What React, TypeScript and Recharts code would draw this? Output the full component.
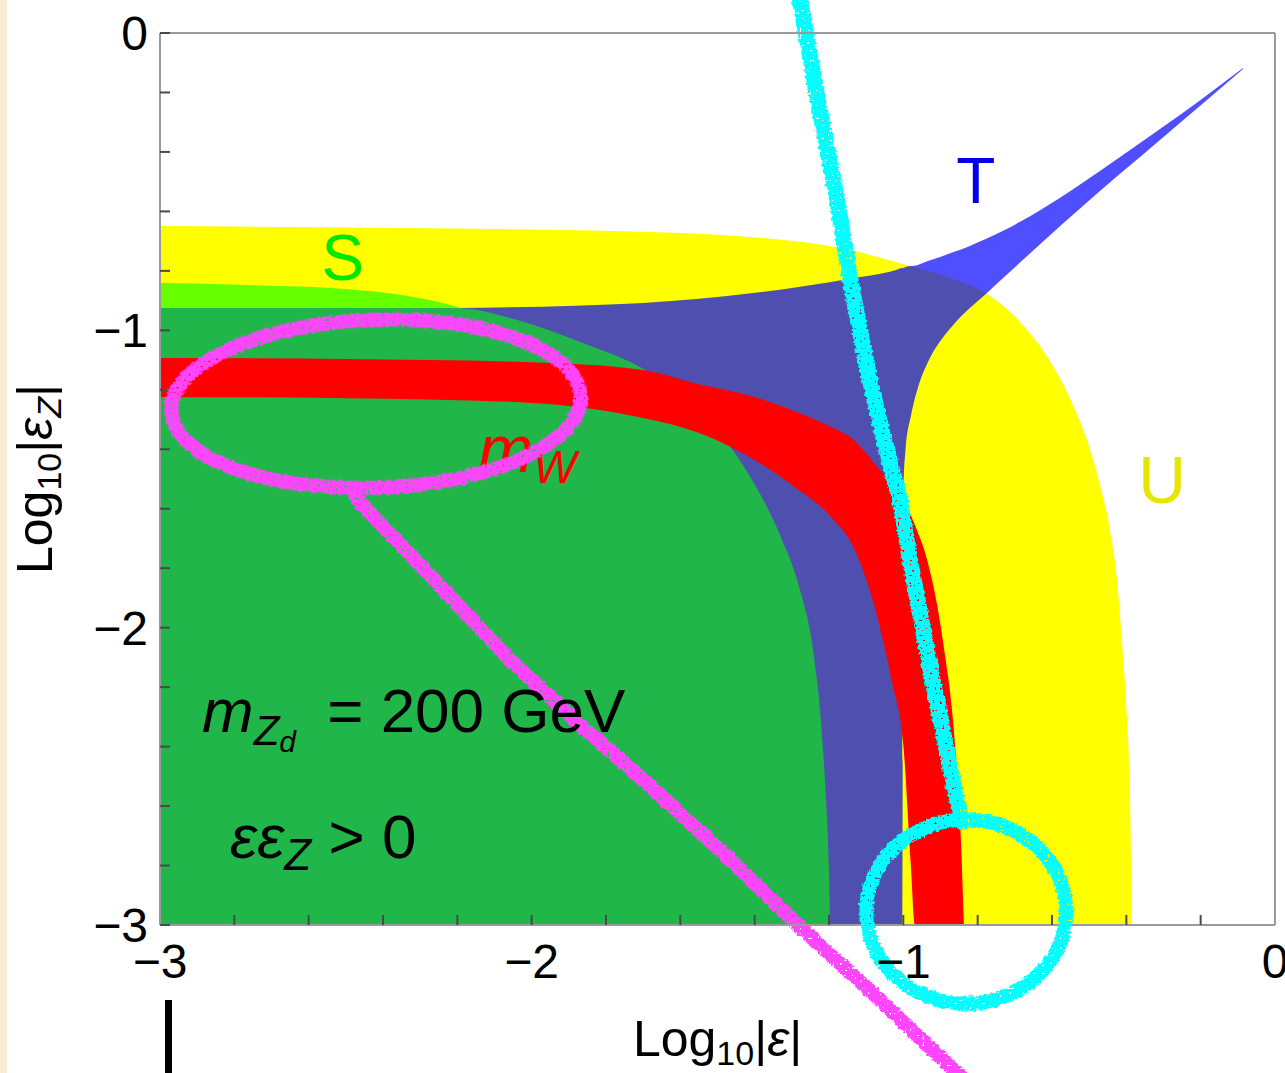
import React from "react";
import {
  ComposedChart,
  Area,
  XAxis,
  YAxis,
  Label,
  ReferenceLine,
  ReferenceDot,
} from "recharts";

const FONT = "'Liberation Sans', Arial, Helvetica, sans-serif";
const W = 1285;
const H = 1073;

// axis ticks every 0.2, labels only on the integers
const ticks = [-3, -2.8, -2.6, -2.4, -2.2, -2, -1.8, -1.6, -1.4, -1.2, -1, -0.8, -0.6, -0.4, -0.2, 0];

// outer edge of the S ∪ U allowed region (yellow), [log|ε|, log|εZ|]
const yellowEdge: [number, number][] = [
  [-3, -0.649], [-2.354, -0.656], [-1.682, -0.669], [-1.413, -0.686], [-1.144, -0.73],
  [-1.009, -0.774], [-0.874, -0.824], [-0.78, -0.874], [-0.686, -0.972], [-0.611, -1.093],
  [-0.552, -1.228], [-0.506, -1.369], [-0.471, -1.52], [-0.444, -1.672], [-0.425, -1.84],
  [-0.412, -2.042], [-0.398, -2.311], [-0.39, -2.58], [-0.385, -3],
];

// S band edge where it overlaps the yellow strip (light green)
const lightGreenEdge: [number, number][] = [
  [-3, -0.841], [-2.75, -0.848], [-2.5, -0.861], [-2.35, -0.881], [-2.25, -0.905], [-2.19, -0.925],
];

// S allowed region (dark green)
const greenEdge: [number, number][] = [
  [-3, -0.925], [-2.206, -0.925], [-2.039, -0.965], [-1.862, -1.043], [-1.682, -1.144],
  [-1.574, -1.251], [-1.48, -1.369], [-1.399, -1.52], [-1.332, -1.688], [-1.278, -1.873],
  [-1.243, -2.075], [-1.222, -2.311], [-1.208, -2.58], [-1.2, -2.815], [-1.197, -3],
];

// T allowed region: [x, lower, upper]
const tBand: [number, number, number][] = [
  [-2.201, -3, -0.925], [-1.7, -3, -0.908], [-1.399, -3, -0.874], [-1.149, -3, -0.827],
  [-1.02, -3, -0.797], [-1.003, -3, -0.79], [-1.0, -1.537, -0.79], [-0.994, -1.402, -0.787],
  [-0.979, -1.285, -0.784], [-0.961, -1.194, -0.78], [-0.934, -1.107, -0.767], [-0.901, -1.037, -0.753],
  [-0.861, -0.975, -0.735], [-0.821, -0.925, -0.716], [-0.78, -0.88, -0.694], [-0.733, -0.826, -0.666],
  [-0.686, -0.772, -0.635], [-0.578, -0.649, -0.554], [-0.471, -0.531, -0.464], [-0.363, -0.417, -0.37],
  [-0.256, -0.303, -0.276], [-0.161, -0.202, -0.188], [-0.086, -0.121, -0.118],
];

// m_W band: [x, lower, upper]
const mwBand: [number, number, number][] = [
  [-3, -1.224, -1.093], [-2.5, -1.228, -1.096], [-2.0, -1.244, -1.107], [-1.7, -1.295, -1.133],
  [-1.55, -1.345, -1.181], [-1.4, -1.436, -1.224], [-1.3, -1.52, -1.268], [-1.2, -1.621, -1.322],
  [-1.13, -1.739, -1.372], [-1.07, -1.964, -1.46], [-1.03, -2.186, -1.52], [-1.0, -2.395, -1.571],
  [-0.98, -2.795, -1.621], [-0.969, -3, -1.655], [-0.936, -3, -1.772], [-0.909, -3, -1.924],
  [-0.888, -3, -2.092], [-0.869, -3, -2.277], [-0.856, -3, -2.479], [-0.845, -3, -2.714],
  [-0.837, -3, -3],
];

// hand-drawn markings on top of the plot
const magentaLoop: [number, number] = [-2.419, -1.247];
const magentaTail: [number, number][] = [
  [-2.475, -1.561], [-2.274, -1.823], [-2.058, -2.109], [-1.883, -2.311], [-1.709, -2.502],
  [-1.493, -2.748], [-1.278, -3.007], [-1.063, -3.252], [-0.856, -3.498], [-0.834, -3.521],
];
const cyanStroke: [number, number][] = [
  [-1.278, 0.111], [-1.23, -0.225], [-1.178, -0.562], [-1.144, -0.821], [-1.098, -1.123],
  [-1.052, -1.369], [-1.009, -1.571], [-0.982, -1.772], [-0.928, -2.132], [-0.866, -2.522],
  [-0.842, -2.654],
];
const cyanRing: [number, number] = [-0.831, -2.955];

type Row = { x: number; [k: string]: number | [number, number] };
const table: Row[] = [
  ...yellowEdge.map(([x, y]) => ({ x, yellow: [-3, y] as [number, number] })),
  ...lightGreenEdge.map(([x, y]) => ({ x, lime: [-3, y] as [number, number] })),
  ...greenEdge.map(([x, y]) => ({ x, green: [-3, y] as [number, number] })),
  ...tBand.map(([x, lo, hi]) => ({ x, t: [lo, hi] as [number, number] })),
  ...mwBand.map(([x, lo, hi]) => ({ x, mw: [lo, hi] as [number, number] })),
].sort((a, b) => a.x - b.x);

const fmt = (v: number) => (Number.isInteger(v) ? (v < 0 ? `\u2212${Math.abs(v)}` : String(v)) : "");

const axisLine = { stroke: "#9a9a9a", strokeWidth: 2 };
const tickLine = { stroke: "#4a4a4a", strokeWidth: 2 };

function XTitle(props: any) {
  const vb = props.viewBox || { x: 160, y: 925, width: 1115 };
  return (
    <text x={vb.x + vb.width / 2} y={vb.y + 131} textAnchor="middle" fontSize={50} fontFamily={FONT} fill="#000">
      Log
      <tspan fontSize={34} dy={9}>10</tspan>
      <tspan dy={-9}>|</tspan>
      <tspan fontStyle="italic">ε</tspan>
      <tspan>|</tspan>
    </text>
  );
}

function YTitle(props: any) {
  const vb = props.viewBox || { x: 0, y: 33, height: 892 };
  const cx = vb.x + 52;
  const cy = vb.y + vb.height / 2;
  return (
    <text x={cx} y={cy} transform={`rotate(-90 ${cx} ${cy})`} textAnchor="middle" fontSize={50} fontFamily={FONT} fill="#000">
      Log
      <tspan fontSize={34} dy={9}>10</tspan>
      <tspan dy={-9}>|</tspan>
      <tspan fontStyle="italic">ε</tspan>
      <tspan fontSize={34} fontStyle="italic" dy={9}>Z</tspan>
      <tspan dy={-9}>|</tspan>
    </text>
  );
}

// polyline drawn as chained reference segments so it may leave the plot frame
function Stroke({ pts, color, width }: { pts: [number, number][]; color: string; width: number }) {
  return (
    <>
      {pts.slice(1).map((p, i) => (
        <ReferenceLine
          key={`${color}-${i}`}
          segment={[{ x: pts[i][0], y: pts[i][1] }, { x: p[0], y: p[1] }]}
          ifOverflow="visible"
          shape={(s: any) => (
            <line
              x1={s.x1}
              y1={s.y1}
              x2={s.x2}
              y2={s.y2}
              stroke={color}
              strokeWidth={width}
              strokeLinecap="round"
              filter="url(#chalk)"
            />
          )}
        />
      ))}
    </>
  );
}

const ring = (rx: number, ry: number, tilt: number, color: string) => (p: any) => (
  <ellipse
    cx={p.cx}
    cy={p.cy}
    rx={rx}
    ry={ry}
    fill="none"
    stroke={color}
    strokeWidth={14}
    transform={`rotate(${tilt} ${p.cx} ${p.cy})`}
    filter="url(#chalk)"
  />
);

const note = (render: (cx: number, cy: number) => React.ReactNode) => (p: any) => <g>{render(p.cx, p.cy)}</g>;

export default function App() {
  return (
    <div style={{ position: "absolute", left: 0, top: 0, width: W, height: H, background: "#fff", overflow: "hidden" }}>
      <svg width={0} height={0} style={{ position: "absolute" }}>
        <defs>
          {/* rough chalk-like edge and a few pin holes for the marker strokes */}
          <filter id="chalk" filterUnits="userSpaceOnUse" x={0} y={0} width={W} height={H}>
            <feTurbulence type="fractalNoise" baseFrequency="0.3" numOctaves={2} seed={4} result="noise" />
            <feDisplacementMap in="SourceGraphic" in2="noise" scale={5} xChannelSelector="R" yChannelSelector="G" result="rough" />
            <feTurbulence type="fractalNoise" baseFrequency="0.4" numOctaves={1} seed={11} result="grain" />
            <feColorMatrix
              in="grain"
              type="matrix"
              values="0 0 0 0 0  0 0 0 0 0  0 0 0 0 0  25 0 0 0 -7.2"
              result="mask"
            />
            <feComposite in="rough" in2="mask" operator="in" />
          </filter>
        </defs>
      </svg>
      <div style={{ position: "absolute", left: 0, top: 0, width: 7, height: H, background: "#f6edd3" }} />

      <ComposedChart width={W} height={H} data={table} margin={{ top: 0, right: 0, bottom: 0, left: 0 }}>
        <XAxis
          type="number"
          dataKey="x"
          domain={[-3, 0]}
          ticks={ticks}
          interval={0}
          allowDataOverflow
          height={148}
          tickSize={-10}
          tickMargin={29}
          tickFormatter={fmt}
          tick={{ fontSize: 48, fill: "#000", fontFamily: FONT }}
          axisLine={axisLine}
          tickLine={tickLine}
        >
          <Label content={XTitle} />
        </XAxis>
        <XAxis
          xAxisId="top"
          orientation="top"
          type="number"
          dataKey="x"
          domain={[-3, 0]}
          ticks={ticks}
          interval={0}
          allowDataOverflow
          height={33}
          tickSize={-10}
          tick={false}
          axisLine={axisLine}
          tickLine={tickLine}
        />
        <YAxis
          type="number"
          domain={[-3, 0]}
          ticks={ticks}
          interval={0}
          allowDataOverflow
          width={160}
          tickSize={-10}
          tickMargin={22}
          tickFormatter={fmt}
          tick={{ fontSize: 48, fill: "#000", fontFamily: FONT }}
          axisLine={axisLine}
          tickLine={tickLine}
        >
          <Label content={YTitle} />
        </YAxis>
        <YAxis
          yAxisId="right"
          orientation="right"
          type="number"
          domain={[-3, 0]}
          ticks={ticks}
          interval={0}
          allowDataOverflow
          width={10}
          tickSize={-10}
          tick={false}
          axisLine={axisLine}
          tickLine={tickLine}
        />

        <Area dataKey="yellow" type="monotoneX" connectNulls stroke="none" fill="#ffff00" fillOpacity={1} dot={false} activeDot={false} isAnimationActive={false} />
        <Area dataKey="t" type="monotoneX" connectNulls stroke="none" fill="#0000ff" fillOpacity={0.69} dot={false} activeDot={false} isAnimationActive={false} />
        <Area dataKey="lime" type="monotoneX" connectNulls stroke="none" fill="#66ff00" fillOpacity={1} dot={false} activeDot={false} isAnimationActive={false} />
        <Area dataKey="green" type="monotoneX" connectNulls stroke="none" fill="#21b649" fillOpacity={1} dot={false} activeDot={false} isAnimationActive={false} />
        <Area dataKey="mw" type="monotoneX" connectNulls stroke="none" fill="#ff0000" fillOpacity={1} dot={false} activeDot={false} isAnimationActive={false} />

        <ReferenceDot
          x={-2.508}
          y={-0.831}
          ifOverflow="visible"
          shape={note((cx, cy) => (
            <text x={cx} y={cy} textAnchor="middle" fontSize={64} fontFamily={FONT} fill="#00e600">S</text>
          ))}
        />
        <ReferenceDot
          x={-0.805}
          y={-0.572}
          ifOverflow="visible"
          shape={note((cx, cy) => (
            <text x={cx} y={cy} textAnchor="middle" fontSize={64} fontFamily={FONT} fill="#0000ee">T</text>
          ))}
        />
        <ReferenceDot
          x={-0.304}
          y={-1.581}
          ifOverflow="visible"
          shape={note((cx, cy) => (
            <text x={cx} y={cy} textAnchor="middle" fontSize={66} fontFamily={FONT} fill="#e6e600">U</text>
          ))}
        />
        <ReferenceDot
          x={-2.144}
          y={-1.476}
          ifOverflow="visible"
          shape={note((cx, cy) => (
            <text x={cx} y={cy} fontSize={66} fontFamily={FONT} fill="#ff0000" fontStyle="italic">
              m<tspan fontSize={46} dy={11}>W</tspan>
            </text>
          ))}
        />
        <ReferenceDot
          x={-2.887}
          y={-2.351}
          ifOverflow="visible"
          shape={note((cx, cy) => (
            <text x={cx} y={cy} fontSize={62} fontFamily={FONT} fill="#000">
              <tspan fontStyle="italic">m</tspan>
              <tspan fontSize={42} fontStyle="italic" dy={13}>Z</tspan>
              <tspan fontSize={30} fontStyle="italic" dy={7}>d</tspan>
              <tspan dy={-20} dx={14}>{" = 200 GeV"}</tspan>
            </text>
          ))}
        />
        <ReferenceDot
          x={-2.812}
          y={-2.775}
          ifOverflow="visible"
          shape={note((cx, cy) => (
            <text x={cx} y={cy} fontSize={62} fontFamily={FONT} fill="#000">
              <tspan fontStyle="italic">εε</tspan>
              <tspan fontSize={44} fontStyle="italic" dy={12}>Z</tspan>
              <tspan dy={-12}>{" > 0"}</tspan>
            </text>
          ))}
        />

        <ReferenceDot x={magentaLoop[0]} y={magentaLoop[1]} ifOverflow="visible" shape={ring(205, 84, -2, "#ff44ff")} />
        {Stroke({ pts: magentaTail, color: "#ff44ff", width: 14 })}
        {Stroke({ pts: cyanStroke, color: "#00ffff", width: 16 })}
        <ReferenceDot x={cyanRing[0]} y={cyanRing[1]} ifOverflow="visible" shape={ring(100, 92, 0, "#00ffff")} />
      </ComposedChart>

      <div style={{ position: "absolute", left: 165, top: 1000, width: 7, height: 73, background: "#000" }} />
    </div>
  );
}
